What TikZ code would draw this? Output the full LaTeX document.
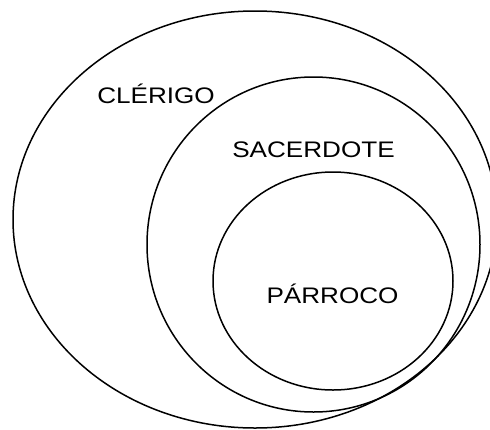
\documentclass[tikz,border=0pt]{standalone}
\usepackage{fontspec}
\setmainfont{Liberation Sans}
\usetikzlibrary{shapes.geometric}
\begin{document}
\begin{tikzpicture}[x=1pt,y=-1pt,
  setring/.style={ellipse, draw, line width=1.5pt, inner sep=0pt},
  setlabel/.style={anchor=base, inner sep=0pt, font=\fontsize{22.5}{26}\selectfont}]
  \useasboundingbox (0,0) rectangle (490,429);
  \clip (0,0) rectangle (490,429);
  % nested sets
  \node[setring, minimum width=484pt, minimum height=417pt] (clerigoset) at (255,219.5) {};
  \node[setring, minimum width=333pt, minimum height=335pt] (sacerdoteset) at (313.5,244.5) {};
  \node[setring, minimum width=240pt, minimum height=218pt] (parrocoset) at (333,281) {};
  % set names
  \node[setlabel] (clerigo) at (156,103) {\scalebox{1.16}[1]{CLÉRIGO}};
  \node[setlabel] (sacerdote) at (313.5,157) {\scalebox{1.16}[1]{SACERDOTE}};
  \node[setlabel] (parroco) at (332.5,303) {\scalebox{1.16}[1]{PÁRROCO}};
\end{tikzpicture}
\end{document}
